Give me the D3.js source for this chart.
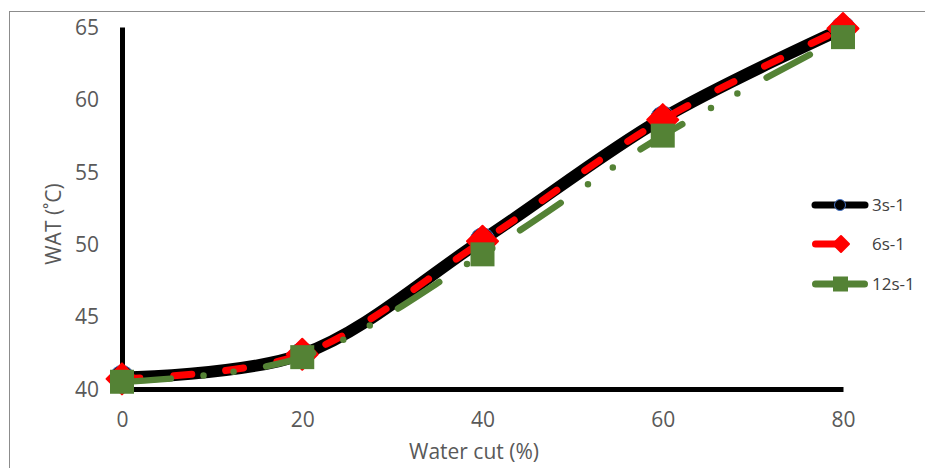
<!DOCTYPE html>
<html>
<head>
<meta charset="utf-8">
<script src="https://cdn.jsdelivr.net/npm/d3@7"></script>
<style>
  html, body { margin: 0; padding: 0; background: #fff; }
  svg { display: block; font-family: "Open Sans", "Noto Sans", sans-serif; }
</style>
</head>
<body>
<svg id="chart" width="925" height="468"></svg>
<script>
// Wax appearance temperature against water cut, at three shear rates
const waterCut = [0, 20, 40, 60, 80];
const wat3 = [40.8, 42.4, 50.3, 58.7, 64.9];   // 3 s-1
const wat6 = [40.7, 42.4, 50.2, 58.6, 64.9];   // 6 s-1
const wat12 = [40.5, 42.2, 49.3, 57.5, 64.3];  // 12 s-1
const seriesNames = ["3s-1", "6s-1", "12s-1"];
const xTicks = [0, 20, 40, 60, 80];
const yTicks = [40, 45, 50, 55, 60, 65];

const svg = d3.select("#chart");

// outer chart frame
svg.append("rect")
  .attr("x", 9.5).attr("y", 11.5)
  .attr("width", 1000).attr("height", 1000)
  .attr("fill", "none").attr("stroke", "#8c8c8c").attr("stroke-width", 1);

const x = d3.scaleLinear().domain([0, 80]).range([122, 843]);
const y = d3.scaleLinear().domain([40, 65]).range([389, 27]);

// axes
const yAxis = svg.append("g")
  .attr("transform", `translate(${x(0)},0)`)
  .call(d3.axisLeft(y).tickValues(yTicks).tickSize(0).tickSizeOuter(0).tickPadding(23));
const xAxis = svg.append("g")
  .attr("transform", `translate(0,${y(40)})`)
  .call(d3.axisBottom(x).tickValues(xTicks).tickSize(0).tickSizeOuter(0).tickPadding(23));

[yAxis, xAxis].forEach(g => {
  g.select(".domain").attr("stroke", "#000").attr("stroke-width", 5);
  g.selectAll(".tick text")
    .attr("fill", "#595959")
    .style("font-size", "21px")
    .style("font-family", "'Open Sans', sans-serif");
});
yAxis.selectAll(".tick text").attr("dy", "0.35em");

// axis titles
svg.append("text")
  .attr("x", 474).attr("y", 459)
  .attr("text-anchor", "middle")
  .attr("fill", "#595959")
  .style("font-size", "21px")
  .text("Water cut (%)");

svg.append("text")
  .attr("transform", "translate(61,224) rotate(-90)")
  .attr("text-anchor", "middle")
  .attr("fill", "#595959")
  .style("font-size", "21px")
  .text("WAT (˚C)");

const curve = d3.curveCatmullRom.alpha(0.5);
const lineGen = d3.line()
  .x((d, i) => x(waterCut[i]))
  .y(d => y(d))
  .curve(curve);

const plot = svg.append("g");

// 3 s-1 : thick black line, circle markers
plot.append("path")
  .datum(wat3)
  .attr("d", lineGen)
  .attr("fill", "none").attr("stroke", "#000")
  .attr("stroke-width", 12)
  .attr("stroke-linecap", "round").attr("stroke-linejoin", "round");
plot.selectAll(".m3").data(wat3).join("circle")
  .attr("class", "m3")
  .attr("cx", (d, i) => x(waterCut[i])).attr("cy", d => y(d))
  .attr("r", 12)
  .attr("fill", "#000").attr("stroke", "#4472c4").attr("stroke-width", 1);

// 6 s-1 : red dashed line, diamond markers
plot.append("path")
  .datum(wat6)
  .attr("d", lineGen)
  .attr("fill", "none").attr("stroke", "#ff0000")
  .attr("stroke-width", 7)
  .attr("stroke-dasharray", "18 34")
  .attr("stroke-linecap", "round").attr("stroke-linejoin", "round");
const diamond = s => `M0,${-s}L${s},0L0,${s}L${-s},0Z`;
plot.selectAll(".m6").data(wat6).join("path")
  .attr("class", "m6")
  .attr("transform", (d, i) => `translate(${x(waterCut[i])},${y(d)})`)
  .attr("d", diamond(15.5))
  .attr("fill", "#ff0000").attr("stroke", "#ff0000")
  .attr("stroke-width", 2).attr("stroke-linejoin", "round");

// 12 s-1 : green long-dash-dot-dot line, square markers
plot.append("path")
  .datum(wat12)
  .attr("d", lineGen)
  .attr("fill", "none").attr("stroke", "#548235")
  .attr("stroke-width", 6.5)
  .attr("stroke-dasharray", "49 33 0 30 0 33")
  .attr("stroke-linecap", "round").attr("stroke-linejoin", "round");
plot.selectAll(".m12").data(wat12).join("rect")
  .attr("class", "m12")
  .attr("x", (d, i) => x(waterCut[i]) - 12).attr("y", d => y(d) - 12)
  .attr("width", 24).attr("height", 24)
  .attr("fill", "#548235");

// legend
const legendY = [205, 244, 284];
const legend = svg.append("g");
// black
legend.append("line")
  .attr("x1", 815).attr("x2", 865).attr("y1", legendY[0]).attr("y2", legendY[0])
  .attr("stroke", "#000").attr("stroke-width", 7).attr("stroke-linecap", "round");
legend.append("circle")
  .attr("cx", 840).attr("cy", legendY[0]).attr("r", 5.5)
  .attr("fill", "#000").attr("stroke", "#4472c4").attr("stroke-width", 1);
// red
legend.append("line")
  .attr("x1", 815.5).attr("x2", 868).attr("y1", legendY[1]).attr("y2", legendY[1])
  .attr("stroke", "#ff0000").attr("stroke-width", 7)
  .attr("stroke-dasharray", "24 40").attr("stroke-linecap", "round");
legend.append("path")
  .attr("transform", `translate(841,${legendY[1]})`)
  .attr("d", diamond(8))
  .attr("fill", "#ff0000").attr("stroke", "#ff0000")
  .attr("stroke-width", 2).attr("stroke-linejoin", "round");
// green
legend.append("line")
  .attr("x1", 815.5).attr("x2", 864.5).attr("y1", legendY[2]).attr("y2", legendY[2])
  .attr("stroke", "#548235").attr("stroke-width", 7).attr("stroke-linecap", "round");
legend.append("rect")
  .attr("x", 833).attr("y", legendY[2] - 7.5).attr("width", 15).attr("height", 15)
  .attr("fill", "#548235");

legend.selectAll(".lt").data(seriesNames).join("text")
  .attr("class", "lt")
  .attr("x", 872).attr("y", (d, i) => legendY[i])
  .attr("dy", "0.35em")
  .attr("fill", "#404040")
  .style("font-size", "17px")
  .text(d => d);
</script>
</body>
</html>
